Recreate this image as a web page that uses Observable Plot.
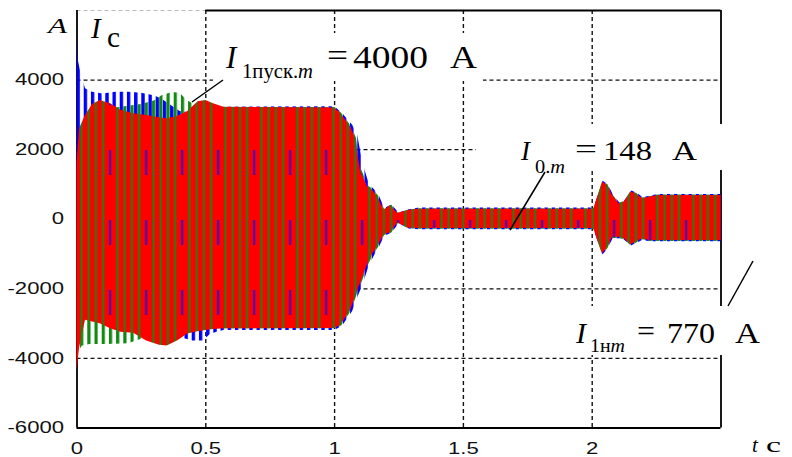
<!DOCTYPE html>
<html><head><meta charset="utf-8">
<script src="https://cdn.jsdelivr.net/npm/d3@7"></script>
<script src="https://cdn.jsdelivr.net/npm/@observablehq/plot@0.6"></script>
<style>
html,body{margin:0;padding:0;background:#fff;}
#chart{width:792px;height:457px;overflow:hidden;}
</style></head><body><div id="chart"></div>
<script>
// ---- data (envelopes of the three phase currents) ----
const xTicks = [0, 0.5, 1, 1.5, 2];
const yTicks = [-6000, -4000, -2000, 0, 2000, 4000];
const xGrid = [0.5, 1, 1.5, 2];
const yGrid = [-4000, -2000, 0, 2000, 4000];

const blueT  = [0,0.004,0.014,0.033,0.06,0.10,0.15,0.20,0.25,0.30,0.33,0.36,0.40,0.45,0.49,0.52,0.57,1.00,1.03,1.07,1.09,1.11,1.135,1.155,1.175,1.195,1.222,1.25,1.29,1.33,2.00,2.007,2.023,2.042,2.062,2.081,2.107,2.126,2.152,2.172,2.198,2.223,2.256,2.50];
const blueHi = [5400,4600,4245,3750,3650,3600,3650,3650,3620,3550,3450,3300,3100,3050,3100,3150,3220,3230,3050,2700,2400,1600,1000,850,650,300,420,180,270,320,320,330,660,1090,1000,710,470,520,810,760,620,660,710,710];
const blueLo = [1600,-2000,-2700,-2800,-2900,-3000,-3050,-3100,-3150,-3200,-3250,-3300,-3400,-3500,-3500,-3300,-3200,-3200,-3080,-2650,-2250,-1900,-1330,-1050,-790,-480,-410,-130,-280,-300,-300,-310,-640,-1030,-850,-560,-560,-600,-770,-700,-600,-650,-650,-650];

const greenT  = [0,0.008,0.02,0.05,0.10,0.15,0.20,0.25,0.30,0.33,0.37,0.40,0.43,0.47,0.57,1.00,1.027,1.066,1.085,1.103,1.132,1.151,1.174,1.194,1.221,1.248,1.287,1.326,2.00,2.007,2.022,2.041,2.061,2.080,2.106,2.125,2.151,2.171,2.197,2.222,2.255,2.50];
const greenHi = [-500,2500,2700,3000,3100,3200,3250,3300,3400,3550,3640,3620,3400,3250,3210,3210,3050,2660,2320,1450,950,850,630,280,410,175,260,305,305,315,650,1080,990,700,460,510,800,750,610,650,700,700];
const greenLo = [-3500,-3800,-3650,-3600,-3600,-3590,-3580,-3450,-3300,-3200,-3150,-3150,-3150,-3150,-3150,-3150,-3070,-2630,-2230,-1880,-1310,-1030,-770,-470,-400,-120,-270,-290,-290,-300,-630,-1020,-840,-550,-550,-590,-760,-690,-590,-640,-640,-640];

const redT  = [0,0.010,0.033,0.06,0.09,0.13,0.17,0.22,0.27,0.32,0.35,0.39,0.43,0.47,0.50,0.53,0.57,1.00,1.024,1.063,1.082,1.10,1.129,1.148,1.171,1.191,1.218,1.245,1.284,1.323,2.00,2.007,2.021,2.040,2.060,2.079,2.105,2.124,2.150,2.170,2.196,2.221,2.254,2.50];
const redHi = [1600,2600,2980,3300,3410,3320,3130,3030,2980,2920,2890,2950,3100,3380,3410,3320,3220,3200,3040,2640,2300,1400,910,825,600,250,395,165,250,290,290,300,630,1060,970,680,440,490,780,730,590,630,680,680];
const redLo = [-4350,-3700,-2900,-2950,-3000,-3150,-3250,-3280,-3500,-3620,-3640,-3500,-3300,-3230,-3200,-3170,-3150,-3140,-3050,-2600,-2200,-1850,-1280,-1000,-740,-450,-380,-100,-250,-265,-265,-276,-600,-990,-810,-520,-520,-560,-730,-660,-560,-610,-610,-610];

const rows = (T, H, L) => T.map((t, i) => ({t, hi: H[i], lo: L[i]}));
const blueRows = rows(blueT, blueHi, blueLo);
const greenRows = rows(greenT, greenHi, greenLo);
const redRows = rows(redT, redHi, redLo);

const gridStyle = {stroke: "#111", strokeWidth: 1.4, strokeDasharray: "4,3"};

const plot = Plot.plot({
  width: 792, height: 457,
  marginLeft: 76.5, marginRight: 71.5, marginTop: 10, marginBottom: 29.5,
  x: {domain: [0, 2.5], ticks: xTicks, tickFormat: d => String(d), tickSize: 0, tickPadding: 15, label: null},
  y: {domain: [-6000, 6000], ticks: yTicks, tickFormat: d => String(d), tickSize: 0, tickPadding: 13, label: null},
  style: {fontFamily: "'Liberation Sans', Arial, sans-serif", fontSize: "16px", color: "#111", background: "#fff", overflow: "visible"},
  marks: [
    Plot.ruleX(xGrid, gridStyle),
    Plot.ruleY(yGrid, gridStyle),
    Plot.ruleY([{y: 6000, a: 0, b: 0.5}], {y: "y", x1: "a", x2: "b", stroke: "#bbb", strokeDasharray: "4,3"}),
    Plot.ruleY([{y: 6000, a: 0.5, b: 2.5}], {y: "y", x1: "a", x2: "b", stroke: "#000", strokeWidth: 1.8}),
    Plot.ruleX([0], {stroke: "#000", strokeWidth: 1.8}),
    Plot.ruleX([2.5], {stroke: "#000", strokeWidth: 1.8}),
    Plot.ruleY([-6000], {stroke: "#000", strokeWidth: 1.8}),
    Plot.areaY(blueRows, {x: "t", y1: "lo", y2: "hi", fill: "url(#pB)", curve: "linear"}),
    Plot.areaY(greenRows, {x: "t", y1: "lo", y2: "hi", fill: "url(#pG)", curve: "linear"}),
    Plot.areaY(redRows, {x: "t", y1: "lo", y2: "hi", fill: "url(#pR)", curve: "linear"})
  ]
});
document.getElementById("chart").append(plot);
const svg = d3.select(plot);

// widen tick labels (the reference font is horizontally stretched)
svg.selectAll("text").each(function () {
  const L = this.getComputedTextLength();
  if (L > 0) {
    this.setAttribute("textLength", (L * 1.38).toFixed(1));
    this.setAttribute("lengthAdjust", "spacingAndGlyphs");
  }
});

// fill patterns
const x0 = 76.5;
const defs = svg.insert("defs", ":first-child");
const pR = defs.append("pattern").attr("id", "pR").attr("patternUnits", "userSpaceOnUse").attr("x", x0).attr("width", 36).attr("height", 70);
pR.append("rect").attr("width", 36).attr("height", 70).attr("fill", "#ff0000");
[0, 7.2, 14.4, 21.6].forEach(x => pR.append("rect").attr("x", x + 4).attr("width", 2).attr("height", 70).attr("fill", "#108a10"));
pR.append("rect").attr("x", 32.8).attr("y", 10).attr("width", 1.6).attr("height", 25).attr("fill", "#0000ff");
const pB = defs.append("pattern").attr("id", "pB").attr("patternUnits", "userSpaceOnUse").attr("x", x0).attr("width", 7.2).attr("height", 20);
pB.append("rect").attr("x", 0).attr("width", 3.4).attr("height", 20).attr("fill", "#0000ff");
const pG = defs.append("pattern").attr("id", "pG").attr("patternUnits", "userSpaceOnUse").attr("x", x0).attr("width", 7.2).attr("height", 20);
pG.append("rect").attr("x", 3.6).attr("width", 3.2).attr("height", 20).attr("fill", "#108a10");

// annotations
const ann = svg.append("g")
  .attr("font-family", "'Liberation Serif','Times New Roman',serif")
  .attr("text-anchor", "start")
  .attr("fill", "#000");
const box = (x, y, w, h) => ann.append("rect").attr("x", x).attr("y", y).attr("width", w).attr("height", h).attr("fill", "#fff");
box(213, 33, 270, 48);
box(476, 124, 248, 46);
box(568, 306, 200, 49);
const line = (x1, y1, x2, y2) => ann.append("line").attr("x1", x1).attr("y1", y1).attr("x2", x2).attr("y2", y2).attr("stroke", "#000").attr("stroke-width", 1.5);
line(223, 80, 192, 102);
line(545, 172, 510, 230);
line(753, 261, 728, 306);
function txt(parts, x, y, size, width) {
  const t = ann.append("text").attr("x", x).attr("y", y).attr("font-size", size)
    .attr("font-family", "'Liberation Serif','Times New Roman',serif").attr("text-anchor", "start");
  for (const [s, it] of parts) t.append("tspan").text(s).attr("font-style", it ? "italic" : "normal");
  if (width) { t.attr("textLength", width).attr("lengthAdjust", "spacingAndGlyphs"); }
  return t;
}
// top-left unit and label
txt([["A", true]], 48, 33, 22, 19);
txt([["I", true]], 91, 38, 29);
txt([["с", false]], 107, 47, 29, 13);
// I_1пуск.m = 4000 A
txt([["I", true]], 226, 68, 31);
txt([["1пуск.", false], ["m", true]], 242, 78, 20, 71);
txt([["=", false]], 327, 66, 31, 21);
txt([["4000", false]], 353, 68, 31, 75);
txt([["A", false]], 450, 68, 31, 27);
// I_0.m = 148 A
txt([["I", true]], 521, 160, 27);
txt([["0.", false], ["m", true]], 535, 173, 19, 30);
txt([["=", false]], 575, 158, 27, 22);
txt([["148", false]], 603, 160, 27, 49);
txt([["A", false]], 672, 160, 27, 25);
// I_1нm = 770 A
txt([["I", true]], 576, 343, 30);
txt([["1н", false], ["m", true]], 590, 352, 18, 35);
txt([["=", false]], 637, 341, 30, 18);
txt([["770", false]], 667, 343, 30, 48);
txt([["A", false]], 735, 343, 30, 25);
// t c
txt([["t", true]], 752, 452, 21);
txt([["с", false]], 766, 452, 21, 15);
</script>
</body></html>
